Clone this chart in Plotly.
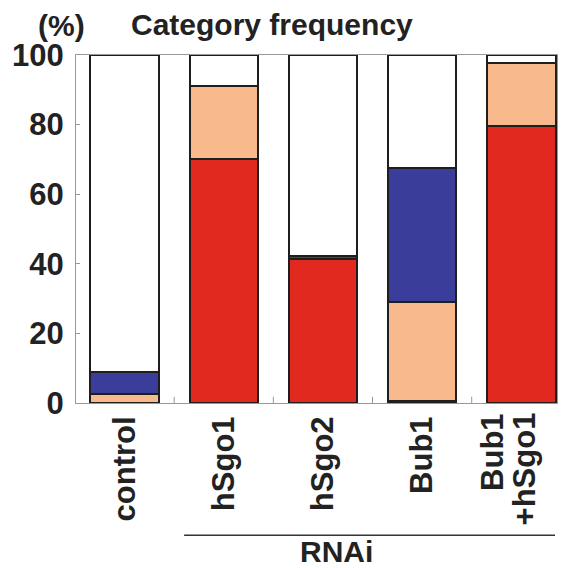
import plotly.graph_objects as go

categories = ["control", "hSgo1", "hSgo2", "Bub1", "Bub1<br>+hSgo1"]
red_vals = [None, 70, 41.3, 0.5, 79.7]
orange_vals = [2.5, 21, None, 28.6, 18]
blue_vals = [6.5, None, 0.8, 38.5, None]
white_vals = [91, 9, 57.9, 32.4, 2.3]
y_ticks = [0, 20, 40, 60, 80, 100]

series = [
    ("red", red_vals, "#e2291f"),
    ("orange", orange_vals, "#f8b98c"),
    ("blue", blue_vals, "#3b3d9b"),
    ("white", white_vals, "#ffffff"),
]

FONT = "Liberation Sans, Arial, sans-serif"
TXT = "#222"
n = len(categories)
fig = go.Figure()
for name, vals, col in series:
    fig.add_trace(go.Bar(
        x=list(range(n)), y=vals, name=name,
        marker=dict(color=col, line=dict(color="#1e1e1e", width=2)),
        showlegend=False,
    ))

# single-line labels as ticks; the two-line label drawn with tighter line spacing
tick_text = [c if "<br>" not in c else "" for c in categories]
multi_annots = []
for i, c in enumerate(categories):
    if "<br>" in c:
        parts = c.split("<br>")
        for k, p in enumerate(parts):
            multi_annots.append(dict(
                text=p, xref="x", yref="paper",
                x=i + 0.03 + (k - (len(parts) - 1)) * 0.323, y=-0.022,
                xanchor="center", yanchor="top", textangle=-90,
                showarrow=False, font=dict(size=31, weight="bold", color=TXT)))

fig.update_layout(
    barmode="stack", bargap=0.31,
    width=568, height=568,
    margin=dict(l=76, r=11, t=55, b=165),
    paper_bgcolor="white", plot_bgcolor="white",
    font=dict(family=FONT, color=TXT, size=30, weight="bold"),
    xaxis=dict(
        range=[-0.49, 4.36], tickmode="array",
        tickvals=list(range(n)), ticktext=tick_text,
        tickangle=-90, tickfont=dict(size=31, weight="bold", color=TXT),
        showline=True, mirror=True, linecolor="#999", linewidth=1,
        ticks="", showgrid=False, zeroline=False,
    ),
    yaxis=dict(
        range=[0, 100], tickvals=y_ticks,
        tickfont=dict(size=31, weight="bold", color=TXT),
        ticklabelstandoff=5,
        showline=True, mirror=True, linecolor="#999", linewidth=1,
        ticks="inside", ticklen=4, tickcolor="#999",
        showgrid=False, zeroline=False,
    ),
    annotations=[
        dict(text="Category frequency", xref="paper", yref="paper",
             x=0.407, y=1.088, xanchor="center", yanchor="middle",
             showarrow=False, font=dict(size=30, weight="bold", color=TXT)),
        dict(text="(%)", xref="paper", yref="paper",
             x=-0.031, y=1.085, xanchor="center", yanchor="middle",
             showarrow=False, font=dict(size=30, weight="bold", color=TXT)),
        dict(text="RNAi", xref="x", yref="paper",
             x=2.14, y=-0.426, xanchor="center", yanchor="middle",
             showarrow=False, font=dict(size=30, weight="bold", color=TXT)),
    ] + multi_annots,
    shapes=[
        dict(type="line", xref="x", yref="paper", x0=0.6, x1=4.34,
             y0=-0.38, y1=-0.38, line=dict(color="#333", width=1.5)),
    ] + [
        dict(type="line", xref="x", yref="paper", x0=i + 0.5, x1=i + 0.5,
             y0=0, y1=0.018, line=dict(color="#999", width=1))
        for i in range(n - 1)
    ],
)

fig.write_html("out.html", config={"displayModeBar": False},
               post_script="document.body.style.margin='0';document.body.style.overflow='hidden';")
